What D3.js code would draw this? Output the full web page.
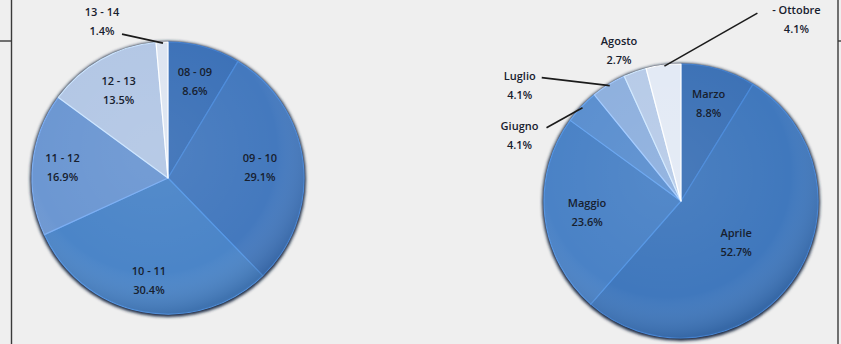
<!DOCTYPE html>
<html>
<head>
<meta charset="utf-8">
<script src="https://cdn.jsdelivr.net/npm/d3@7"></script>
<style>
  html, body { margin: 0; padding: 0; background: #efefef; }
  svg { display: block; }
  .lbl { font-family: "Open Sans", sans-serif; font-size: 11px; font-weight: 600; fill: #17202e; }
</style>
</head>
<body>
<div id="chart"></div>
<script>
// season pie (left)
const seasonLabels = ["08 - 09", "09 - 10", "10 - 11", "11 - 12", "12 - 13", "13 - 14"];
const seasonValues = [8.6, 29.1, 30.4, 16.9, 13.5, 1.4];

// month pie (right)
const monthLabels = ["Marzo", "Aprile", "Maggio", "Giugno", "Luglio", "Agosto", "- Ottobre"];
const monthValues = [8.8, 52.7, 23.6, 4.1, 4.1, 2.7, 4.1];

const W = 841, H = 344;

const svg = d3.select("#chart").append("svg")
    .attr("width", W)
    .attr("height", H);

const defs = svg.append("defs");

const blur = defs.append("filter").attr("id", "rim")
    .attr("x", "-10%").attr("y", "-10%").attr("width", "120%").attr("height", "120%");
blur.append("feGaussianBlur").attr("stdDeviation", 1.4);

const shade = defs.append("radialGradient").attr("id", "shade")
    .attr("cx", "45%").attr("cy", "40%").attr("r", "60%");
shade.append("stop").attr("offset", "0%").attr("stop-color", "#fff").attr("stop-opacity", 0.06);
shade.append("stop").attr("offset", "75%").attr("stop-color", "#fff").attr("stop-opacity", 0);
shade.append("stop").attr("offset", "100%").attr("stop-color", "#0a1f40").attr("stop-opacity", 0.18);

// frame lines
svg.append("line").attr("x1", 11.5).attr("x2", 11.5).attr("y1", 0).attr("y2", H)
    .attr("stroke", "#3a3a3a").attr("stroke-width", 1.4);
svg.append("line").attr("x1", 0).attr("x2", 11.5).attr("y1", 41).attr("y2", 41)
    .attr("stroke", "#3a3a3a").attr("stroke-width", 1.4);
svg.append("line").attr("x1", 838).attr("x2", 838).attr("y1", 0).attr("y2", H)
    .attr("stroke", "#3a3a3a").attr("stroke-width", 1.4);
svg.append("line").attr("x1", 838).attr("x2", W).attr("y1", 41).attr("y2", 41)
    .attr("stroke", "#3a3a3a").attr("stroke-width", 1.4);

function drawPie(cfg) {
    const g = svg.append("g").attr("transform", `translate(${cfg.cx},${cfg.cy})`);
    const pie = d3.pie().sort(null).value(d => d)(cfg.values);
    const arc = d3.arc().innerRadius(0).outerRadius(cfg.r);

    // dark fuzzy rim
    g.append("circle").attr("r", cfg.r + 2).attr("cy", 1)
        .attr("fill", "#1f2c44").attr("filter", "url(#rim)");

    g.selectAll("path.slice")
        .data(pie)
        .join("path")
        .attr("class", "slice")
        .attr("d", arc)
        .attr("fill", (d, i) => cfg.colors[i])
        .attr("stroke", (d, i) => d3.color(cfg.colors[i]).brighter(0.4))
        .attr("stroke-width", 1.2)
        .attr("stroke-linejoin", "round");

    g.append("circle").attr("r", cfg.r).attr("fill", "url(#shade)");

    pie.forEach((d, i) => {
        const a = (d.startAngle + d.endAngle) / 2;
        let x, y;
        const off = cfg.outside[i];
        if (off) {
            // label placed off the slice edge, leader from [dx, dy] of the label centre
            const ex = Math.sin(a) * cfg.r, ey = -Math.cos(a) * cfg.r;
            x = ex + off[0];
            y = ey + off[1];
            if (off[2] !== undefined) {
                g.append("path")
                    .attr("d", d3.line()([[x + off[2], y + off[3]], [ex + 1, ey + 1]]))
                    .attr("fill", "none")
                    .attr("stroke", "#1b1b1b")
                    .attr("stroke-width", 1.6);
            }
        } else {
            const rr = cfg.r * cfg.labelR[i];
            x = Math.sin(a) * rr;
            y = -Math.cos(a) * rr;
        }
        const t = g.append("text").attr("class", "lbl").attr("text-anchor", "middle");
        t.append("tspan").attr("x", x).attr("y", y - 5).text(cfg.labels[i]);
        t.append("tspan").attr("x", x).attr("y", y + 14).text(d3.format(".1f")(cfg.values[i]) + "%");
    });
}

drawPie({
    cx: 168, cy: 178, r: 136,
    values: seasonValues,
    labels: seasonLabels,
    colors: ["#3d72b8", "#4479be", "#4b85c8", "#6c97d2", "#b3c7e5", "#dde5f1"],
    labelR: [0.74, 0.68, 0.76, 0.78, 0.74, 0],
    outside: [null, null, null, null, null, [-60, -21, 20, 13]]
});

drawPie({
    cx: 681, cy: 201, r: 137,
    values: monthValues,
    labels: monthLabels,
    colors: ["#3d72b6", "#4078bd", "#4a82c6", "#5b8fcf", "#8eb0de", "#b7cbe8", "#e3eaf5"],
    labelR: [0.74, 0.5, 0.69, 0, 0, 0, 0],
    outside: [null, null, null, [-62, 28, 27, -7], [-89, 0, 22, -7], [-16, -22], [133, -46, -39, -6]]
});
</script>
</body>
</html>
